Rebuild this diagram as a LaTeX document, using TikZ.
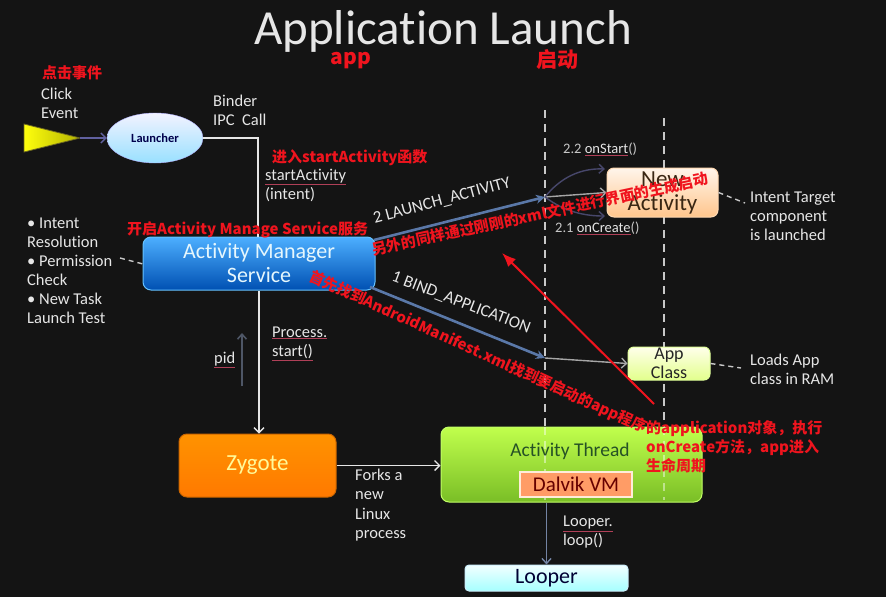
\documentclass[tikz,border=0pt]{standalone}
\usepackage{fontspec}
\setmainfont{Carlito}[Ligatures=NoCommon]
\newfontfamily\cjk{Noto Sans CJK SC}
\usetikzlibrary{arrows.meta,shapes.geometric}
\definecolor{bg}{HTML}{141414}
\definecolor{txtw}{HTML}{E6E6E6}
\definecolor{annred}{HTML}{F0141E}
\definecolor{ulred}{HTML}{B04058}
\definecolor{lgray}{HTML}{C8C8C8}
\definecolor{steel}{HTML}{5A78A8}
\definecolor{pidgray}{HTML}{4E5666}
\definecolor{lpgray}{HTML}{7484A4}
\newcommand\ulr[1]{{\color{ulred}\underline{\color{txtw}#1}}}
\tikzset{
  wtxt/.style={text=txtw, font=\fontsize{16.5}{19}\selectfont, align=left, inner sep=0pt, anchor=west},
  stxt/.style={text=lgray, font=\fontsize{14.5}{16}\selectfont, inner sep=0pt, anchor=west},
  redtxt/.style={text=annred, font=\cjk\bfseries\fontsize{15}{19}\selectfont, inner sep=0pt, align=left},
  rbox/.style={rounded corners=8pt, line width=1pt, inner sep=0pt, align=center},
  wconn/.style={draw=txtw, line width=1.6pt},
  warrow/.style={wconn, -{Straight Barb[length=5pt,width=10pt,line width=1.4pt]}},
  blueconn/.style={draw=#1, line width=2.6pt, -{Stealth[length=9pt,width=9pt]}},
  grayconn/.style={draw=#1, line width=1.4pt, -{Straight Barb[length=5pt,width=10pt]}},
  vdash/.style={draw=lgray, line width=2.4pt, dash pattern=on 8pt off 6pt},
  sdash/.style={draw=lgray, line width=1.4pt, dash pattern=on 5pt off 4pt},
}
\begin{document}
\begin{tikzpicture}[x=1pt,y=-1pt]
\fill[bg] (0,0) rectangle (886,597);
\useasboundingbox (0,0) rectangle (886,597);

% title
\node[text=txtw, font=\fontsize{49}{52}\selectfont, inner sep=0pt] (title) at (443,31) {Application Launch};
\node[redtxt, font=\cjk\bfseries\fontsize{21}{24}\selectfont] (rapp) at (351,61) {app};
\node[redtxt, font=\cjk\bfseries\fontsize{21}{24}\selectfont] (rqd) at (557,60) {启动};

% dashed lifelines
\coordinate (d1t) at (545,110); \coordinate (d1b) at (545,500);
\coordinate (d2t) at (664,118); \coordinate (d2b) at (664,500);
\draw[vdash] (d1t) -- (d1b);
\draw[vdash] (d2t) -- (d2b);

% left texts
\node[redtxt, anchor=west, font=\cjk\bfseries\fontsize{15}{17}\selectfont] (rclick) at (42,73) {点击事件};
\node[wtxt] (click) at (41,103) {Click\\Event};
\node[wtxt] (binder) at (213,110.5) {Binder\\IPC\ \ Call};
\node[wtxt] (bul) at (27,270.5) {• Intent\\Resolution\\• Permission\\Check\\• New Task\\Launch Test};

% launcher
\shade[left color=yellow!95!white, right color=yellow!70!black, draw=olive!70!black, line width=0.8pt]
  (24,124) -- (80,138) -- (24,152) -- cycle;
\coordinate (trip) at (80,138);
\node[ellipse, minimum width=96pt, minimum height=50pt, top color=white!95!blue, bottom color=blue!30!cyan!40!white, draw=blue!30!white, inner sep=0pt,
      text=blue!30!black, font=\bfseries\fontsize{12.5}{14}\selectfont] (launch) at (155,138) {Launcher};
\draw[grayconn=blue!25!gray] (trip) -- (launch.west);

% AMS
\node[rbox, minimum width=232pt, minimum height=53pt, top color=blue!45!cyan!70!white, bottom color=blue!55!cyan!70!black, draw=blue!40!cyan!60!white,
      text=cyan!10!white, font=\fontsize{22}{24}\selectfont] (ams) at (259,263.5) {Activity Manager\\Service};
\coordinate (amsin) at (258,237);
\draw[wconn] (launch.east) -| (amsin);

\node[wtxt] (sa) at (265,185.5) {\ulr{startActivity}\\(intent)};
\node[redtxt, anchor=west, font=\cjk\bfseries\fontsize{15}{17}\selectfont] (rsa) at (272,158) {进入startActivity函数};
\node[redtxt, anchor=west] (rams) at (127,230) {开启Activity Manage Service服务};

\coordinate (bulr) at (120,258); \coordinate (amsl) at (143,264);
\draw[sdash] (bulr) -- (amsl);

% Zygote
\node[rbox, minimum width=157pt, minimum height=63pt, top color=orange!85!yellow, bottom color=orange!95!red, draw=orange!80!black,
      text=yellow!40!white, font=\fontsize{23}{25}\selectfont] (zyg) at (257.5,465.5) {Zygote};
\draw[warrow] (ams.south) -- (ams.south |- zyg.north);
\coordinate (pidb) at (242,386); \coordinate (pidt) at (242,333);
\draw[draw=pidgray, line width=1.6pt, -{Straight Barb[length=5pt,width=9pt]}] (pidb) -- (pidt);
\node[wtxt] (pid) at (214,360) {\ulr{pid}};
\node[wtxt] (ps) at (272,343.5) {\ulr{Process.}\\\ulr{start()}};

% Activity Thread
\node[rbox, minimum width=261pt, minimum height=75pt, top color=green!35!yellow!70!white, bottom color=green!45!yellow!70!black!85, draw=green!40!yellow!60!white,
      ] (at) at (571.5,464.5) {};
\node[text=green!20!black!85, font=\fontsize{19.5}{22}\selectfont, inner sep=0pt] (attxt) at (570,451) {Activity Thread};
\draw[draw=white, opacity=0.45, line width=2.4pt, dash pattern=on 8pt off 6pt] (545,427) -- (d1b);
\draw[draw=white, opacity=0.45, line width=2.4pt, dash pattern=on 8pt off 6pt] (664,427) -- (d2b);
\node[draw=orange!15!white, line width=2pt, fill=orange!70!red!60!white, minimum width=112pt, minimum height=25pt, inner sep=0pt,
      text=red!40!black, font=\fontsize{21}{22}\selectfont] (dvm) at (576,484.5) {Dalvik VM};
\draw[warrow] (zyg.east) -- (zyg.east -| at.west);
\node[wtxt, font=\fontsize{16.5}{19.5}\selectfont] (forks) at (355,505) {Forks a\\new\\Linux\\process};

% Looper
\node[rbox, rounded corners=4pt, minimum width=163pt, minimum height=26pt, top color=cyan!5!white, bottom color=cyan!35!white, draw=cyan!20!white,
      text=blue!20!black, font=\fontsize{22}{23}\selectfont] (looper) at (546.5,578) {Looper};
\draw[draw=lpgray, line width=1.4pt, -{Straight Barb[length=5pt,width=9pt]}] (looper.north |- at.south) -- (looper.north);
\node[wtxt] (ll) at (563,532.5) {\ulr{Looper.}\\loop()};

% New Activity
\node[rbox, rounded corners=7pt, minimum width=111pt, minimum height=49pt, top color=orange!8!white, bottom color=orange!45!white, draw=orange!30!white,
      text=brown!30!black, font=\fontsize{23}{24}\selectfont] (na) at (662.5,192.5) {New\\Activity};
\coordinate (la) at (545,197);
\coordinate (lastart) at (374,240);
\draw[blueconn=steel] (lastart) -- (la);
\node[text=txtw, font=\fontsize{17}{18}\selectfont, inner sep=0pt, rotate=15] (latxt) at (442,201) {2 LAUNCH\_ACTIVITY};
\coordinate (na22) at (605,169); \coordinate (na21) at (605,216);
\draw[grayconn=gray!70!white] (la) -- (na.west);
\draw[draw=blue!20!gray!70!black, line width=1.4pt, -{Straight Barb[length=5pt,width=9pt]}] (la) .. controls (560,178) and (580,168) .. (na22);
\draw[draw=blue!20!gray!70!black, line width=1.4pt, -{Straight Barb[length=5pt,width=9pt]}] (la) .. controls (565,212) and (585,216) .. (na21);
\node[stxt] (onstart) at (563,149) {2.2 \ulr{onStart}()};
\node[stxt] (oncreate) at (555,228) {2.1 \ulr{onCreate}()};
\node[wtxt] (itc) at (750,216) {Intent Target\\component\\is launched};
\coordinate (itcl) at (745,203);
\draw[sdash] (na.east) -- (itcl);

% App Class
\node[rbox, rounded corners=6pt, minimum width=82pt, minimum height=33pt, top color=yellow!8!white, bottom color=green!25!yellow!45!white, draw=green!30!yellow!40!white,
      text=black!85, font=\fontsize{18}{19}\selectfont] (ac) at (669,363.5) {App\\Class};
\coordinate (ba) at (545,358);
\coordinate (bastart) at (370,287);
\draw[blueconn=steel] (bastart) -- (ba);
\node[text=txtw, font=\fontsize{17}{18}\selectfont, inner sep=0pt, rotate=-21] (batxt) at (461,303) {1 BIND\_APPLICATION};
\draw[grayconn=gray!70!white] (ba) -- (ac.west);
\node[wtxt] (loads) at (750,369.5) {Loads App\\class in RAM};
\coordinate (loadsl) at (741,368);
\draw[sdash] (ac.east) -- (loadsl);

% red annotations
\node[redtxt, font=\cjk\bfseries\fontsize{15}{19}\selectfont, rotate=12] (rxml) at (540,214) {另外的同样通过刚刚的xml文件进行界面的生成启动};
\node[redtxt, font=\cjk\bfseries\fontsize{15}{19}\selectfont, rotate=-24.5] (rman) at (478,352) {首先找到AndroidManifest.xml找到要启动的app程序};
\node[redtxt, anchor=west] (rapp2) at (646,447) {的application对象，执行\\onCreate方法，app进入\\生命周期};
\coordinate (rtail) at (654,404); \coordinate (rtip) at (502,253);
\draw[draw=annred, line width=2pt, -{Latex[length=14pt,width=11pt]}] (rtail) -- (rtip);
\end{tikzpicture}
\end{document}
